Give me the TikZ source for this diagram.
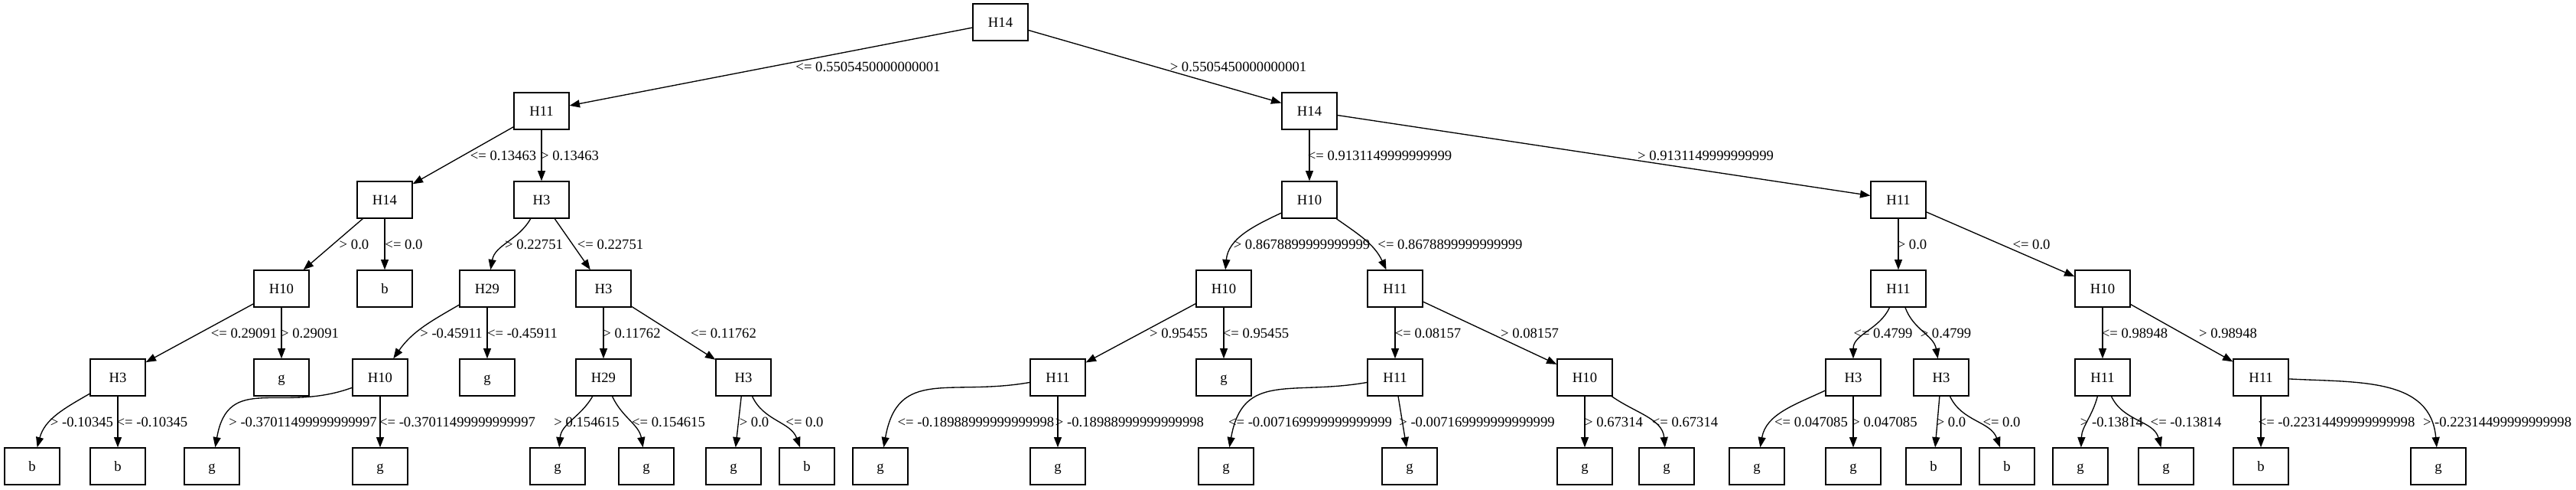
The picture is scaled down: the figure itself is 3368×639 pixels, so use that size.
\documentclass[tikz,border=0pt]{standalone}
\usepackage{fontspec}
\setmainfont{Liberation Serif}
\usetikzlibrary{arrows.meta}

\begin{document}
\begin{tikzpicture}[
  x=0.75pt, y=-0.75pt,
  >={Triangle[length=10pt,width=7.5pt]},
  test/.style={
    draw,
    line width=1pt,
    minimum width=54pt,
    minimum height=36pt,
    inner sep=0pt,
    font=\fontsize{14}{17}\selectfont,
    text height=9.3pt,
    text depth=0pt
  },
  branch/.style={->,line width=1pt},
  cond/.style={inner sep=0pt,font=\fontsize{14}{17}\selectfont}
]
  \useasboundingbox (0,0) rectangle (3368,639);

  % split and leaf boxes
  \node[test] (t) at (1308,29) {H14};
  \node[test] (tl) at (708,145) {H11};
  \node[test] (tr) at (1712,145) {H14};

  \node[test] (tll) at (503,261) {H14};
  \node[test] (tlr) at (708,261) {H3};
  \node[test] (trl) at (1712,261) {H10};
  \node[test] (trr) at (2482,261) {H11};

  \node[test] (tlll) at (368,377) {H10};
  \node[test] (tllr) at (503,377) {b};
  \node[test] (tlrl) at (637,377) {H29};
  \node[test] (tlrr) at (789,377) {H3};
  \node[test] (trll) at (1600,377) {H10};
  \node[test] (trlr) at (1824,377) {H11};
  \node[test] (trrl) at (2482,377) {H11};
  \node[test] (trrr) at (2749,377) {H10};

  \node[test] (tllll) at (154,493) {H3};
  \node[test] (tlllr) at (368,493) {g};
  \node[test] (tlrll) at (497,493) {H10};
  \node[test] (tlrlr) at (637,493) {g};
  \node[test] (tlrrl) at (789,493) {H29};
  \node[test] (tlrrr) at (972,493) {H3};
  \node[test] (trlll) at (1383,493) {H11};
  \node[test] (trllr) at (1600,493) {g};
  \node[test] (trlrl) at (1824,493) {H11};
  \node[test] (trlrr) at (2072,493) {H10};
  \node[test] (trrll) at (2423,493) {H3};
  \node[test] (trrlr) at (2538,493) {H3};
  \node[test] (trrrl) at (2749,493) {H11};
  \node[test] (trrrr) at (2956,493) {H11};

  \node[test] (tlllll) at (42,609) {b};
  \node[test] (tllllr) at (154,609) {b};
  \node[test] (tlrlll) at (277,609) {g};
  \node[test] (tlrllr) at (497,609) {g};
  \node[test] (tlrrll) at (729,609) {g};
  \node[test] (tlrrlr) at (845,609) {g};
  \node[test] (tlrrrl) at (959,609) {g};
  \node[test] (tlrrrr) at (1055,609) {b};
  \node[test] (trllll) at (1151,609) {g};
  \node[test] (trlllr) at (1383,609) {g};
  \node[test] (trlrll) at (1603,609) {g};
  \node[test] (trlrlr) at (1843,609) {g};
  \node[test] (trlrrl) at (2072,609) {g};
  \node[test] (trlrrr) at (2179,609) {g};
  \node[test] (trrlll) at (2297,609) {g};
  \node[test] (trrllr) at (2423,609) {g};
  \node[test] (trrlrl) at (2528,609) {b};
  \node[test] (trrlrr) at (2624,609) {b};
  \node[test] (trrrll) at (2720,609) {g};
  \node[test] (trrrlr) at (2832,609) {g};
  \node[test] (trrrrl) at (2956,609) {b};
  \node[test] (trrrrr) at (3188,609) {g};

  % left half
  \draw[branch] (t) -- (tl) node[cond] (c1) at (1135,87) {<= 0.5505450000000001};
  \draw[branch] (tl) -- (tll) node[cond] (c2) at (658,203) {<= 0.13463};
  \draw[branch] (tl) -- (tlr) node[cond] (c3) at (745,203) {> 0.13463};
  \draw[branch] (tll) -- (tlll) node[cond] (c4) at (463,319) {> 0.0};
  \draw[branch] (tll) -- (tllr) node[cond] (c5) at (528,319) {<= 0.0};
  \draw[branch] (tlr) to[out=-120,in=80] (tlrl) node[cond] (c6) at (698,319) {> 0.22751};
  \draw[branch] (tlr) -- (tlrr) node[cond] (c7) at (798,319) {<= 0.22751};
  \draw[branch] (tlll) -- (tllll) node[cond] (c8) at (319,435) {<= 0.29091};
  \draw[branch] (tlll) -- (tlllr) node[cond] (c9) at (405,435) {> 0.29091};
  \draw[branch] (tlrl) to[out=-150,in=55] (tlrll) node[cond] (c10) at (590,435) {> -0.45911};
  \draw[branch] (tlrl) -- (tlrlr) node[cond] (c11) at (683,435) {<= -0.45911};
  \draw[branch] (tlrr) -- (tlrrl) node[cond] (c12) at (826,435) {> 0.11762};
  \draw[branch] (tlrr) -- (tlrrr) node[cond] (c13) at (946,435) {<= 0.11762};
  \draw[branch] (tllll) to[out=-150,in=75] (tlllll) node[cond] (c14) at (107,551) {> -0.10345};
  \draw[branch] (tllll) -- (tllllr) node[cond] (c15) at (199,551) {<= -0.10345};
  \draw[branch] (tlrll) to[out=-160,in=80,looseness=1.3] (tlrlll) node[cond] (c16) at (396,551) {> -0.37011499999999997};
  \draw[branch] (tlrll) -- (tlrllr) node[cond] (c17) at (598,551) {<= -0.37011499999999997};
  \draw[branch] (tlrrl) to[out=-120,in=85] (tlrrll) node[cond] (c18) at (767,551) {> 0.154615};
  \draw[branch] (tlrrl) to[out=-65,in=100] (tlrrlr) node[cond] (c19) at (874,551) {<= 0.154615};
  \draw[branch] (tlrrr) -- (tlrrrl) node[cond] (c20) at (986,551) {> 0.0};
  \draw[branch] (tlrrr) to[out=-65,in=110] (tlrrrr) node[cond] (c21) at (1052,551) {<= 0.0};

  % right half
  \draw[branch] (t) -- (tr) node[cond] (c22) at (1619,87) {> 0.5505450000000001};
  \draw[branch] (tr) -- (trl) node[cond] (c23) at (1804,203) {<= 0.9131149999999999};
  \draw[branch] (tr) -- (trr) node[cond] (c24) at (2230,203) {> 0.9131149999999999};
  \draw[branch] (trl) to[out=-155,in=85] (trll) node[cond] (c25) at (1702,319) {> 0.8678899999999999};
  \draw[branch] (trl) to[out=-35,in=115] (trlr) node[cond] (c26) at (1896,319) {<= 0.8678899999999999};
  \draw[branch] (trr) -- (trrl) node[cond] (c27) at (2500,319) {> 0.0};
  \draw[branch] (trr) -- (trrr) node[cond] (c28) at (2656,319) {<= 0.0};
  \draw[branch] (trll) -- (trlll) node[cond] (c29) at (1541,435) {> 0.95455};
  \draw[branch] (trll) -- (trllr) node[cond] (c30) at (1642,435) {<= 0.95455};
  \draw[branch] (trlr) -- (trlrl) node[cond] (c31) at (1867,435) {<= 0.08157};
  \draw[branch] (trlr) -- (trlrr) node[cond] (c32) at (2000,435) {> 0.08157};
  \draw[branch] (trrl) to[out=-115,in=90] (trrll) node[cond] (c33) at (2462,435) {<= 0.4799};
  \draw[branch] (trrl) to[out=-70,in=100] (trrlr) node[cond] (c34) at (2544,435) {> 0.4799};
  \draw[branch] (trrr) -- (trrrl) node[cond] (c35) at (2791,435) {<= 0.98948};
  \draw[branch] (trrr) -- (trrrr) node[cond] (c36) at (2913,435) {> 0.98948};
  \draw[branch] (trlll) to[out=-170,in=80,looseness=1.3] (trllll) node[cond] (c37) at (1276,551) {<= -0.18988999999999998};
  \draw[branch] (trlll) -- (trlllr) node[cond] (c38) at (1477,551) {> -0.18988999999999998};
  \draw[branch] (trlrl) to[out=-170,in=80,looseness=1.3] (trlrll) node[cond] (c39) at (1713,551) {<= -0.007169999999999999};
  \draw[branch] (trlrl) -- (trlrlr) node[cond] (c40) at (1931,551) {> -0.007169999999999999};
  \draw[branch] (trlrr) -- (trlrrl) node[cond] (c41) at (2110,551) {> 0.67314};
  \draw[branch] (trlrr) to[out=-35,in=95] (trlrrr) node[cond] (c42) at (2203,551) {<= 0.67314};
  \draw[branch] (trrll) to[out=-155,in=80] (trrlll) node[cond] (c43) at (2368,551) {<= 0.047085};
  \draw[branch] (trrll) -- (trrllr) node[cond] (c44) at (2464,551) {> 0.047085};
  \draw[branch] (trrlr) -- (trrlrl) node[cond] (c45) at (2551,551) {> 0.0};
  \draw[branch] (trrlr) to[out=-65,in=110] (trrlrr) node[cond] (c46) at (2617,551) {<= 0.0};
  \draw[branch] (trrrl) to[out=-105,in=88] (trrrll) node[cond] (c47) at (2761,551) {> -0.13814};
  \draw[branch] (trrrl) to[out=-65,in=105] (trrrlr) node[cond] (c48) at (2858,551) {<= -0.13814};
  \draw[branch] (trrrr) -- (trrrrl) node[cond] (c49) at (3055,551) {<= -0.22314499999999998};
  \draw[branch] (trrrr) to[out=-3,in=95,looseness=1.1] (trrrrr) node[cond] (c50) at (3265,551) {> -0.22314499999999998};
\end{tikzpicture}
\end{document}
